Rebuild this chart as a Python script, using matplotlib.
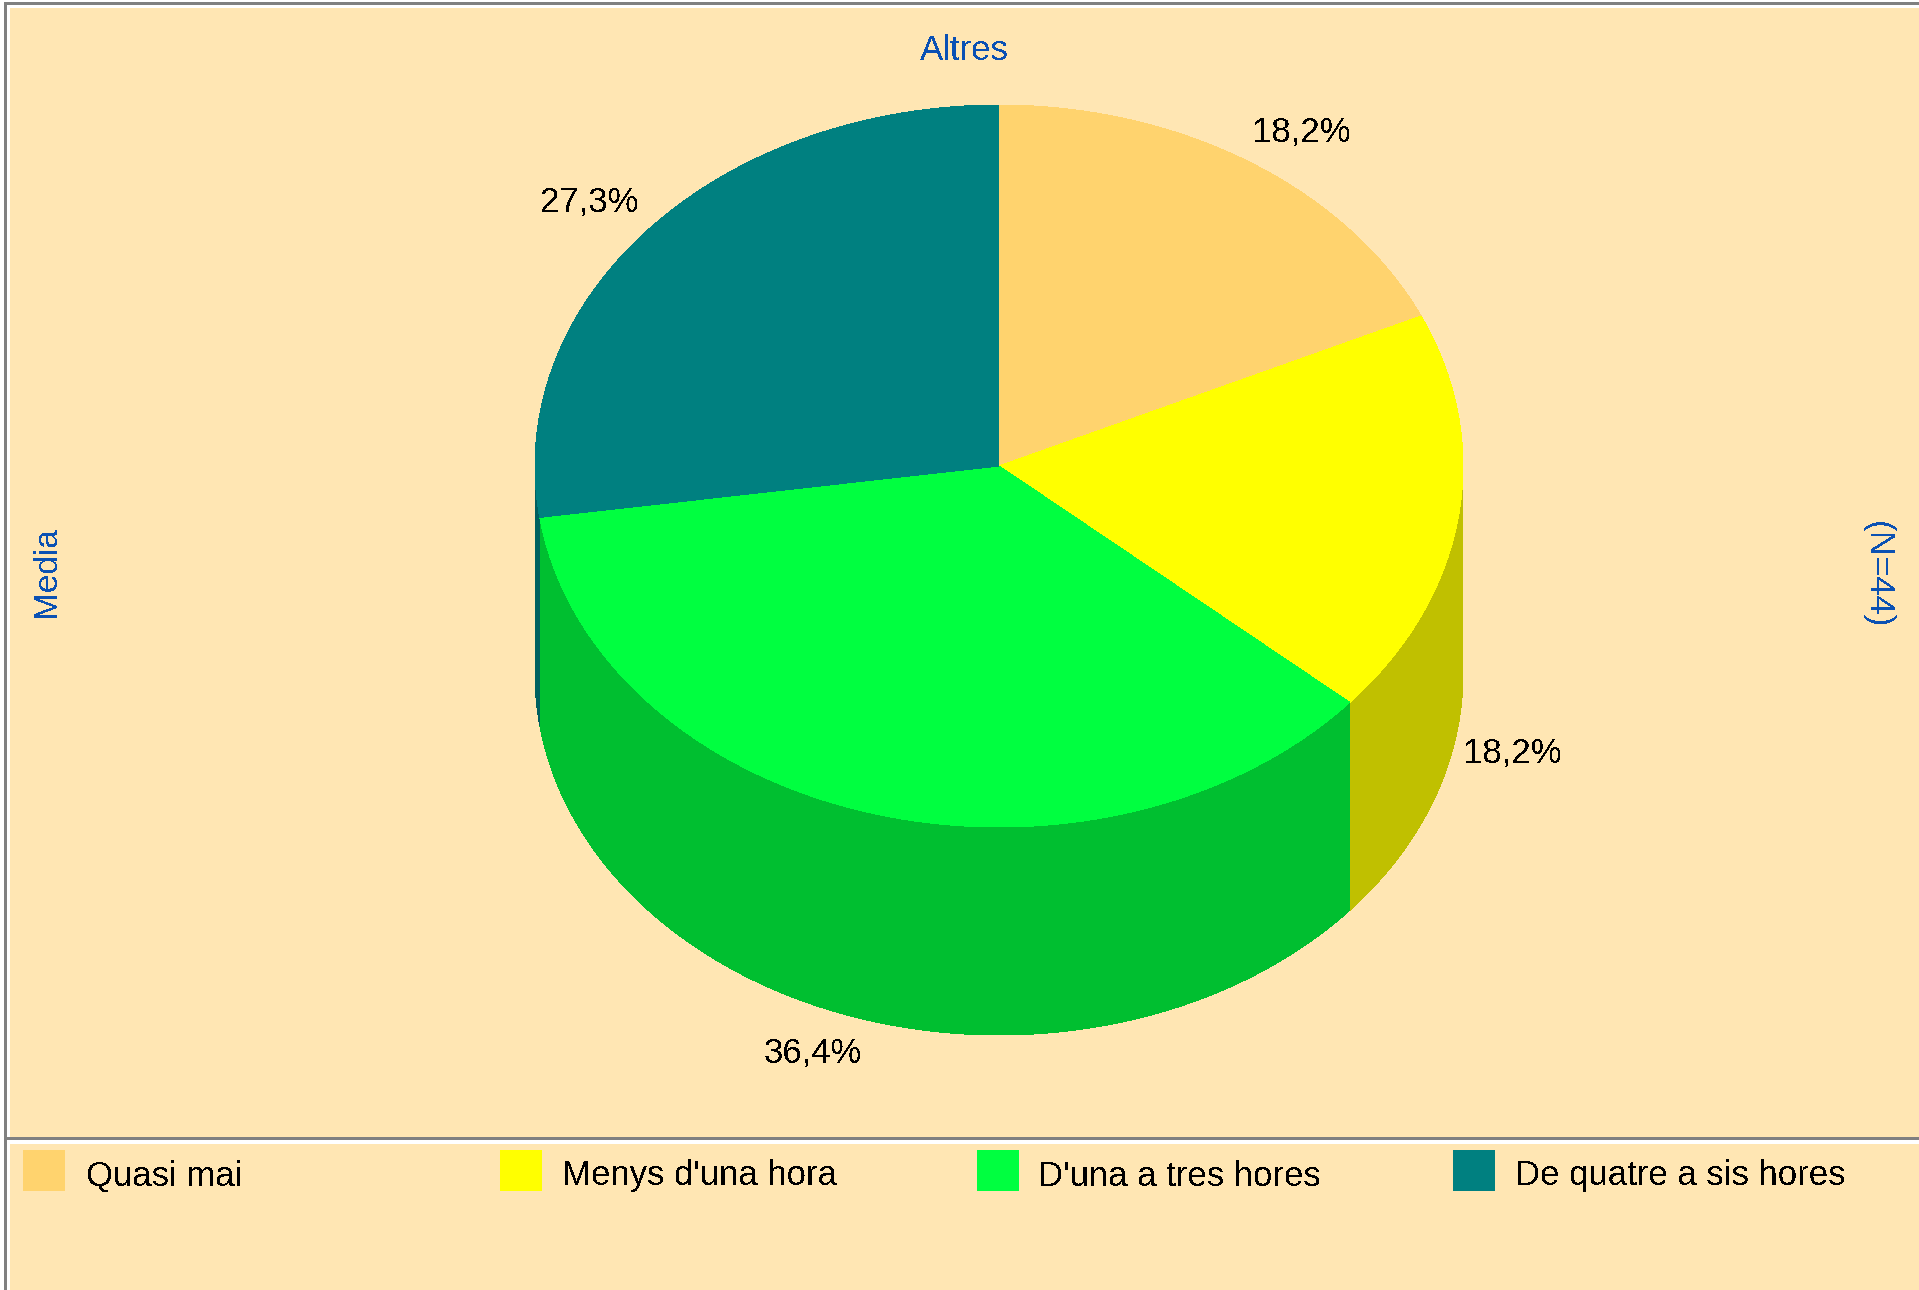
import numpy as np
import matplotlib
matplotlib.use('Agg')
import matplotlib.pyplot as plt
from matplotlib.patches import Rectangle

plt.rcParams['font.family'] = ['Liberation Sans', 'DejaVu Sans']
plt.rcParams['text.antialiased'] = False

"chart values"
categories = ['Quasi mai', "Menys d'una hora", "D'una a tres hores", 'De quatre a sis hores']
counts = [8, 8, 16, 12]
percent_labels = ['18,2%', '18,2%', '36,4%', '27,3%']
title_top = 'Altres'
title_left = 'Media'
title_right = '(N=44)'

top_colors = ['#FFD36E', '#FFFF00', '#00FF40', '#008080']
wall_colors = ['#BFA050', '#C0C000', '#00BF30', '#006060']

"pie geometry in pixels"
cx, cy = 999, 466
rx, ry = 464, 361
depth = 208
label_pos = [(1302, 132), (1513, 753), (813, 1053), (589, 202)]

bg = '#FFE6B3'
gray = '#808080'
blue = '#0A50B4'

W, H = 1919, 1290
fig = plt.figure(figsize=(W/100, H/100), dpi=100, facecolor='white')
ax = fig.add_axes([0, 0, 1, 1])
ax.set_xlim(0, W)
ax.set_ylim(H, 0)
ax.axis('off')

"frame"
ax.add_patch(Rectangle((4, 2), W, H, fc=gray, ec='none', aa=False))
ax.add_patch(Rectangle((7, 5), W, H, fc='white', ec='none', aa=False))
ax.add_patch(Rectangle((10, 8), W, H, fc=bg, ec='none', aa=False))
ax.add_patch(Rectangle((4, 1137), W, 3, fc=gray, ec='none', aa=False))
ax.add_patch(Rectangle((7, 1140), W, 4, fc='white', ec='none', aa=False))


def ell(t):
    # clockwise from twelve o'clock
    return cx + rx*np.sin(t), cy - ry*np.cos(t)


fr = np.array(counts)/sum(counts)
edges = np.concatenate([[0], np.cumsum(fr)])*2*np.pi

"walls, only the part facing down is visible"
for i in range(len(counts)):
    a0 = max(edges[i], np.pi/2)
    a1 = min(edges[i+1], 3*np.pi/2)
    if a1 <= a0:
        continue
    t = np.linspace(a0, a1, 200)
    x, y = ell(t)
    xs = np.concatenate([x, x[::-1]])
    ys = np.concatenate([y, y[::-1]+depth])
    ax.fill(xs, ys, color=wall_colors[i], lw=0, antialiased=False, zorder=2)

"top of the pie"
for i in range(len(counts)):
    t = np.linspace(edges[i], edges[i+1], 300)
    x, y = ell(t)
    ax.fill(np.r_[cx, x], np.r_[cy, y], color=top_colors[i], lw=0, antialiased=False, zorder=3)

for lab, (lx, ly) in zip(percent_labels, label_pos):
    ax.text(lx, ly, lab, fontsize=25, color='black', ha='center', va='center', zorder=4)

ax.text(964, 50, title_top, fontsize=25, color=blue, ha='center', va='center')
ax.text(47, 572, title_left, fontsize=24, color=blue, ha='center', va='center', rotation=90)
ax.text(1877, 575, title_right, fontsize=25, color=blue, ha='center', va='center', rotation=270)

"legend"
swatch_x = [23, 500, 977, 1453]
text_x = [86, 562, 1038, 1515]
for i in range(len(categories)):
    ax.add_patch(Rectangle((swatch_x[i], 1150), 42, 41, fc=top_colors[i], ec='none', aa=False))
    ax.text(text_x[i], 1176, categories[i], fontsize=25, color='black', ha='left', va='center')

fig.savefig('out.png', dpi=100, facecolor='white')
